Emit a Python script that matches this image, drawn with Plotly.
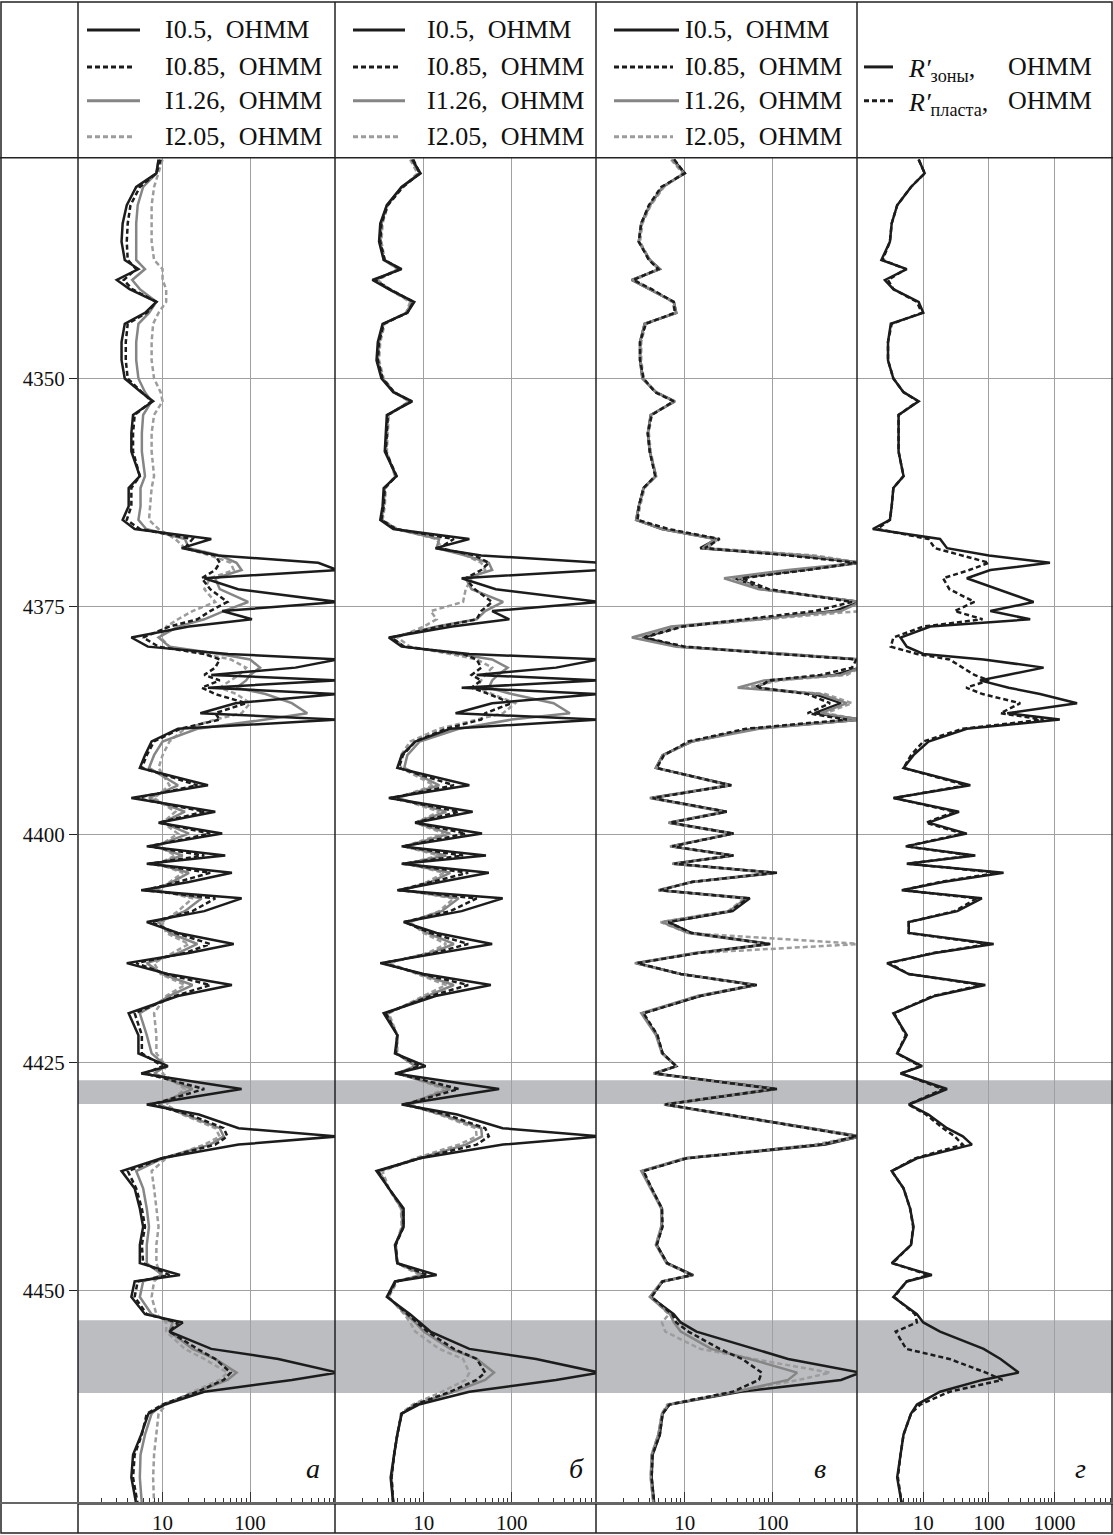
import plotly.graph_objects as go

# ---------------- data ----------------
DEPTH = [4326, 4327.5, 4329, 4331, 4333, 4335, 4337, 4338, 4339.2, 4340.2,
         4341.6, 4342.8, 4344, 4346, 4348, 4350, 4351.5, 4352.5, 4354, 4356,
         4358, 4360.7, 4362, 4364, 4365.5, 4366.5, 4367.6, 4368.6, 4369.4, 4370.2,
         4371, 4371.9, 4373.1, 4374.5, 4375.5, 4376.4, 4377.2, 4378.4, 4379.4, 4380.2,
         4380.8, 4381.7, 4382.5, 4383.1, 4383.9, 4384.6, 4385.6, 4386.7, 4387.4, 4388.4,
         4389.8, 4391.3, 4392.7, 4394.6, 4396, 4397.5, 4398.7, 4399.9, 4401.3, 4402.3,
         4403.2, 4404.2, 4405.2, 4406.1, 4407, 4408.4, 4409.6, 4410.8, 4412, 4413,
         4414.1, 4415.3, 4416.5, 4417.7, 4419.6, 4422, 4424, 4425.4, 4426.2, 4427.9,
         4429.6, 4430.7, 4432.2, 4433.1, 4434, 4435.5, 4436.9, 4438.8, 4441, 4443,
         4445, 4447, 4448.3, 4449, 4450.7, 4452.6, 4453.5, 4454.5, 4456.4, 4457.5,
         4459, 4459.8, 4461.1, 4462.5, 4463.5, 4465.8, 4468, 4470.5, 4473.4]

# panel а
A_I05 = [9, 8.5, 5, 3.9, 3.5, 3.4, 3.7, 5.3, 3.0, 4.2,
         8.5, 6.3, 3.7, 3.4, 3.4, 3.7, 5.7, 7.8, 4.6, 4.4,
         4.4, 5.5, 4.1, 4.1, 3.5, 4.8, 36, 16.5, 43, 600,
         1000, 30, 73, 1000, 48, 105, 20, 4.4, 6.8, 56,
         1000, 330, 36, 1000, 33, 1000, 68, 27, 1000, 15,
         7.5, 6.3, 5.5, 33, 4.4, 40, 9, 48, 6.6, 52,
         6.6, 62, 20, 5.7, 80, 30, 6.6, 15, 65, 20,
         3.9, 11.5, 62, 15, 4.1, 5.3, 5.3, 11.5, 5.7, 80,
         6.6, 26, 74, 1000, 74, 9.7, 3.4, 4.8, 5.5, 6.0,
         5.5, 5.5, 15.8, 4.8, 4.4, 6.3, 17, 12, 36, 210,
         1000, 300, 30, 10.6, 6.9, 5.7, 4.6, 4.4, 5.0]
A_I085 = [9.5, 8.5, 5.5, 4.3, 4.0, 3.9, 4.0, 5.0, 3.6, 4.5,
          8.5, 6.6, 4.0, 3.8, 3.8, 4.0, 5.8, 7.5, 4.8, 4.6,
          4.6, 5.5, 4.4, 4.4, 3.9, 5.5, 22, 18, 40, 45,
          40, 28, 35, 55, 35, 25, 12, 6.0, 9, 30,
          45, 40, 30, 45, 28, 40, 90, 40, 45, 16,
          8, 6.6, 5.8, 25, 5, 30, 9, 35, 7, 30,
          7, 35, 15, 6.3, 40, 22, 7.5, 14, 35, 18,
          5, 11, 35, 14, 4.8, 5.8, 5.8, 10, 6.3, 30,
          7.5, 20, 50, 55, 40, 10, 4.0, 5.0, 5.8, 6.3,
          5.8, 6.0, 12, 5.2, 4.8, 6.6, 15, 12, 25, 40,
          60, 50, 25, 10, 6.6, 5.8, 4.8, 4.6, 5.2]
A_I126 = [9, 8.5, 6, 5.2, 5.0, 5.0, 5.0, 6.3, 4.5, 5.5,
          8.5, 7.0, 5.3, 5.0, 5.0, 5.3, 6.3, 7.5, 6.0, 5.8,
          5.8, 6.3, 5.6, 5.6, 5.3, 6.5, 18, 20, 45, 70,
          80, 40, 45, 95, 50, 30, 15, 9, 12, 45,
          100, 130, 100, 90, 70, 150, 300, 450, 150, 25,
          10, 8, 7, 15, 7, 18, 10, 20, 8, 17,
          8.5, 20, 13, 8, 28, 18, 9, 12, 25, 15,
          6.6, 10, 22, 12, 5.5, 6.6, 7.5, 11, 8, 22,
          9, 18, 45, 50, 35, 10, 5.0, 6.0, 6.6, 7.0,
          6.6, 6.6, 10, 6.0, 5.5, 7.5, 13, 12, 22, 40,
          70, 55, 25, 10, 7.5, 6.3, 5.6, 5.5, 5.8]
A_I205 = [10, 9, 8, 7.5, 7.5, 7.5, 8, 10, 10, 11,
          11, 9, 7.8, 7.5, 7.5, 8, 9.5, 10, 8, 7.5,
          7.5, 8, 7.5, 7.2, 7.0, 9, 14, 18, 35, 60,
          65, 35, 30, 40, 22, 15, 11, 9.5, 12, 30,
          60, 90, 75, 60, 45, 70, 100, 80, 40, 18,
          12, 10, 9, 12, 8, 14, 10, 15, 9, 14,
          9, 17, 12, 9, 22, 15, 10, 11, 20, 13,
          8, 9.5, 18, 11, 8, 8.5, 8.5, 11, 10, 18,
          11, 17, 40, 45, 30, 11, 7.5, 8, 8.5, 9,
          8.5, 8.5, 9.5, 8, 7.5, 8.5, 11, 11, 18, 30,
          55, 45, 22, 11, 9, 8.5, 8, 7.8, 8]

# panel б
B_I05 = [7.4, 9.2, 5.6, 3.8, 3.2, 3.1, 3.5, 5.6, 2.6, 4.0,
         7.8, 6.5, 3.4, 3.0, 2.9, 3.3, 4.5, 7.4, 3.8, 3.7,
         3.6, 4.9, 3.5, 3.4, 3.2, 4.5, 33, 13.6, 45, 1000,
         1000, 27, 66, 1000, 60, 94, 21, 4.0, 5.6, 33,
         1000, 320, 40, 1000, 27, 1000, 60, 23, 1000, 20,
         8, 5.6, 5.0, 33, 4.0, 36, 8, 46, 5.6, 51,
         5.6, 55, 15, 5.0, 79, 27, 5.9, 14, 60, 15,
         3.2, 10, 58, 13.6, 3.5, 5.0, 4.7, 10.5, 4.7, 72,
         5.6, 24, 79, 1000, 80, 9, 2.9, 4.0, 5.9, 5.9,
         4.7, 5.0, 14, 4.7, 3.8, 7, 9, 11.9, 33, 190,
         1000, 320, 33, 8.8, 5.6, 5.0, 4.6, 4.2, 4.5]
B_I085 = [7.6, 9.0, 5.8, 3.9, 3.3, 3.2, 3.6, 5.4, 2.8, 4.1,
          7.6, 6.5, 3.5, 3.1, 3.0, 3.4, 4.6, 7.2, 3.9, 3.8,
          3.7, 4.9, 3.6, 3.5, 3.3, 4.8, 22, 15, 38, 55,
          45, 30, 38, 60, 45, 40, 15, 4.3, 6, 28,
          40, 45, 35, 45, 35, 55, 100, 50, 45, 18,
          8, 5.8, 5.2, 22, 4.2, 25, 8, 30, 5.8, 28,
          5.8, 32, 12, 5.2, 40, 20, 6, 12, 32, 13,
          3.4, 9.5, 32, 12, 3.7, 5.0, 4.8, 9, 5.0, 25,
          6, 18, 50, 55, 40, 9, 3.0, 4.0, 5.8, 5.9,
          4.8, 5.0, 11, 4.8, 3.9, 6.5, 8.5, 11, 22, 40,
          50, 40, 20, 8, 5.6, 5.0, 4.6, 4.3, 4.5]
B_I126 = [7.2, 9.0, 5.6, 3.8, 3.3, 3.2, 3.5, 5.2, 2.8, 4.0,
          7.4, 6.3, 3.5, 3.1, 3.0, 3.4, 4.6, 7.0, 3.9, 3.8,
          3.7, 4.8, 3.6, 3.5, 3.3, 4.8, 15, 14, 30, 55,
          60, 30, 35, 80, 50, 40, 14, 4.3, 6, 25,
          60, 90, 70, 60, 55, 100, 300, 460, 100, 25,
          9, 6.5, 6, 15, 5, 18, 8, 20, 6, 18,
          6.3, 20, 12, 5.8, 25, 16, 6.5, 11, 22, 12,
          3.6, 9, 22, 11, 3.8, 5.0, 4.9, 8, 5.0, 20,
          6.3, 16, 45, 46, 30, 9, 3.1, 4.0, 5.6, 5.7,
          4.8, 5.0, 10, 4.8, 3.9, 6.3, 8, 10, 20, 40,
          63, 50, 22, 8, 5.6, 5.0, 4.6, 4.3, 4.5]
B_I205 = [7.0, 8.5, 5.8, 3.9, 3.4, 3.3, 3.6, 5.0, 3.0, 4.0,
          7.0, 6.3, 3.6, 3.2, 3.1, 3.5, 4.6, 6.8, 4.0, 3.9,
          3.8, 4.7, 3.7, 3.6, 3.4, 5.0, 14, 16, 30, 45,
          50, 35, 30, 28, 12, 14, 10, 5, 7, 20,
          40, 60, 50, 45, 40, 60, 110, 80, 40, 15,
          7, 5.5, 5.5, 13, 5, 15, 8, 17, 6, 15,
          6.5, 17, 11, 6, 22, 15, 7, 10, 18, 11,
          4, 8.5, 18, 10, 4, 5.0, 5.0, 8, 5.5, 17,
          7, 15, 39, 40, 25, 8, 3.4, 4.0, 5.5, 5.6,
          4.8, 5.0, 9, 5, 4.0, 6, 7, 8, 15, 28,
          33, 30, 16, 7.5, 5.5, 5.0, 4.6, 4.3, 4.5]

# panel в
C_I05 = [7.4, 10, 5.6, 4.0, 3.2, 3.0, 4.0, 5.2, 2.5, 4.0,
         7.5, 8, 3.5, 3.1, 3.1, 3.3, 4.7, 7.7, 4.1, 3.8,
         4.0, 4.7, 3.4, 3.0, 2.8, 5.5, 23, 15, 190, 1000,
         200, 37, 79, 1000, 500, 66, 8.8, 3.3, 9, 123,
         1000, 1000, 500, 100, 60, 300, 600, 300, 1000, 60,
         12, 5.6, 4.7, 34, 4.2, 30, 6.7, 36, 7, 36,
         7.4, 112, 12, 5.2, 55, 35, 6.5, 12, 94, 14,
         2.8, 9, 66, 15, 3.3, 4.8, 5.6, 8, 4.5, 112,
         5.9, 30, 270, 1000, 400, 10.5, 3.3, 4.2, 5.5, 5.5,
         4.8, 6.3, 12.5, 5.6, 4.1, 7.5, 9, 13.6, 60, 150,
         1000, 600, 43, 6.7, 5.6, 5.2, 4.3, 4.2, 4.5]
C_I085 = [7.6, 10, 5.4, 3.9, 3.2, 3.0, 3.9, 5.0, 2.6, 4.2,
          7.5, 7.7, 3.6, 3.1, 3.1, 3.4, 4.6, 7.5, 4.2, 3.8,
          4.0, 4.6, 3.4, 3.0, 2.9, 6.5, 25, 17, 150, 900,
          250, 45, 90, 800, 300, 50, 9.5, 3.5, 10, 110,
          900, 800, 350, 90, 70, 250, 450, 250, 700, 50,
          11, 5.8, 4.8, 33, 4.3, 30, 6.8, 35, 7.2, 35,
          7.6, 105, 12, 5.2, 52, 33, 6.5, 12, 90, 14,
          2.9, 9, 62, 15, 3.4, 4.9, 5.6, 8, 4.6, 105,
          6, 30, 250, 900, 350, 10.5, 3.4, 4.2, 5.5, 5.6,
          4.8, 6.3, 12, 5.6, 4.2, 7.2, 8, 11, 25, 45,
          75, 70, 35, 6.7, 5.6, 5.2, 4.3, 4.2, 4.5]
C_I126 = [7.2, 9.8, 5.6, 4.0, 3.2, 3.0, 4.0, 5.2, 2.5, 4.0,
          7.5, 8, 3.5, 3.1, 3.1, 3.3, 4.7, 7.7, 4.1, 3.8,
          4.0, 4.7, 3.4, 3.0, 2.8, 5.5, 22, 16, 250, 1000,
          150, 28, 70, 1000, 600, 60, 7, 2.5, 8, 140,
          1000, 1000, 600, 80, 40, 350, 700, 350, 1000, 70,
          12, 5.6, 4.7, 32, 4.0, 28, 6.5, 34, 6.8, 34,
          7.2, 100, 12, 5.0, 50, 32, 5.5, 11, 88, 13,
          2.7, 9, 62, 14, 3.2, 4.7, 5.5, 8, 4.4, 100,
          5.8, 28, 250, 1000, 350, 10, 3.2, 4.1, 5.4, 5.4,
          4.7, 6.2, 12, 5.5, 4.0, 6.8, 7.5, 9, 20, 55,
          190, 150, 38, 6.5, 5.5, 5.0, 4.2, 4.1, 4.4]
C_I205 = [7.0, 9.5, 5.8, 4.1, 3.3, 3.1, 4.0, 5.0, 2.7, 4.1,
          7.2, 7.8, 3.6, 3.2, 3.2, 3.4, 4.7, 7.4, 4.2, 3.9,
          4.1, 4.7, 3.5, 3.1, 2.9, 6.0, 24, 18, 300, 1000,
          250, 35, 75, 1000, 1000, 80, 9, 2.7, 10, 150,
          1000, 1000, 700, 120, 50, 400, 800, 400, 1000, 60,
          12, 5.8, 4.8, 32, 4.1, 29, 6.6, 34, 6.8, 34,
          7.3, 95, 12, 5.0, 48, 31, 5.3, 11, 1000, 13,
          2.8, 9, 60, 14, 3.3, 4.8, 5.5, 8, 4.5, 95,
          5.8, 28, 230, 900, 300, 10, 3.3, 4.2, 5.4, 5.4,
          4.7, 6.2, 12, 5.5, 4.1, 6.6, 5.5, 6.0, 15, 60,
          450, 200, 35, 6.3, 5.5, 5.0, 4.2, 4.1, 4.4]

# panel г
G_ZONE = [8.5, 10.5, 6.5, 4.0, 3.3, 3.1, 2.3, 5.6, 2.6, 3.5,
          8.5, 10, 3.2, 2.9, 2.9, 3.5, 5, 8.5, 4.2, 4.2,
          4.2, 5.0, 3.5, 3.3, 3.1, 1.7, 18, 23, 100, 850,
          105, 46, 133, 480, 105, 425, 12.8, 4.5, 5.6, 10,
          83, 680, 190, 73, 200, 600, 2200, 190, 1200, 46,
          12, 7.1, 5, 52, 3.5, 35, 12, 46, 5.4, 62,
          5.6, 167, 20, 4.7, 78, 33, 6, 6, 118, 15,
          2.8, 6, 88, 15, 3.5, 5.6, 4.0, 9.6, 4.5, 23,
          6, 12, 23, 40, 55, 8, 3.3, 5.0, 6.3, 7.1,
          6.5, 3.3, 13.5, 5.6, 3.5, 8, 10, 18, 83, 150,
          283, 80, 18, 8, 6.5, 5.0, 4.5, 4.0, 4.7]
G_PLAST = [8.5, 10.5, 6.5, 4.0, 3.3, 3.1, 2.4, 5.4, 2.9, 3.5,
           8, 9.5, 3.3, 2.9, 2.9, 3.5, 5, 8.3, 4.2, 4.2,
           4.2, 5.0, 3.5, 3.3, 3.1, 2.0, 12, 15, 40, 100,
           50, 20, 25, 60, 30, 80, 10, 3.5, 3.2, 8,
           25, 40, 60, 100, 45, 80, 300, 150, 680, 40,
           10, 6.5, 5, 45, 3.6, 30, 11, 40, 5.5, 55,
           5.8, 140, 18, 4.9, 65, 30, 6, 6, 100, 14,
           3.0, 6, 80, 14, 3.6, 5.4, 4.0, 9, 4.6, 20,
           6, 11, 20, 30, 40, 7.5, 3.3, 5.0, 6.3, 7.0,
           6.5, 3.4, 12, 5.6, 3.6, 7.5, 8, 3.8, 5.5, 25,
           90, 160, 25, 9, 6.5, 5.0, 4.5, 4.1, 4.7]

DEPTH_TICKS = [4350, 4375, 4400, 4425, 4450]
X_TICKS = [[10, 100], [10, 100], [10, 100], [10, 100, 1000]]
BANDS = [(4426.95, 4429.55), (4453.27, 4461.24)]
PANEL_LETTERS = ["а", "б", "в", "г"]
LEGEND_I = ["I0.5,\u00a0 OHMM", "I0.85,\u00a0 OHMM", "I1.26,\u00a0 OHMM", "I2.05,\u00a0 OHMM"]
LEGEND_G = ["<i>R′</i><sub>зоны</sub>,", "<i>R′</i><sub>пласта</sub>,"]

for arr in [A_I05, A_I085, A_I126, A_I205, B_I05, B_I085, B_I126, B_I205,
            C_I05, C_I085, C_I126, C_I205, G_ZONE, G_PLAST]:
    assert len(arr) == len(DEPTH), len(arr)

# ---------------- layout geometry ----------------
W, H = 1113, 1535
def px(x): return x / W
def py(y): return 1 - y / H

EDGES = [78, 335, 596, 857, 1113]
XRANGES = [[0.034, 2.97], [-0.01, 2.96], [-0.01, 2.96], [-0.01, 3.89]]
TOP, BOTTOM = 158, 1505

BLACK = "#1c1c1c"
GRAY = "#858585"
LGRAY = "#9c9c9c"
DASH = "5px,3px"
STY = [dict(color=BLACK, dash="solid"), dict(color=BLACK, dash=DASH),
       dict(color=GRAY, dash="solid"), dict(color=LGRAY, dash=DASH)]
SERIF = "Liberation Serif"
LW = 2.5

fig = go.Figure()

panels = [[A_I05, A_I085, A_I126, A_I205],
          [B_I05, B_I085, B_I126, B_I205],
          [C_I05, C_I085, C_I126, C_I205]]
orders = [[3, 2, 1, 0], [3, 2, 1, 0], [0, 3, 2, 1]]
for p in range(3):
    xa = "x" if p == 0 else f"x{p+1}"
    for k in orders[p]:
        fig.add_trace(go.Scatter(x=panels[p][k], y=DEPTH, mode="lines", xaxis=xa, yaxis="y",
                                 line=dict(color=STY[k]["color"], dash=STY[k]["dash"], width=LW),
                                 showlegend=False, hoverinfo="skip"))
fig.add_trace(go.Scatter(x=G_PLAST, y=DEPTH, mode="lines", xaxis="x4", yaxis="y",
                         line=dict(color=BLACK, dash=DASH, width=LW), showlegend=False, hoverinfo="skip"))
fig.add_trace(go.Scatter(x=G_ZONE, y=DEPTH, mode="lines", xaxis="x4", yaxis="y",
                         line=dict(color=BLACK, width=LW), showlegend=False, hoverinfo="skip"))

minor_abv = [2, 3, 4, 5, 6, 7, 8, 9, 20, 30, 40, 50, 60, 70, 80, 90, 200, 300, 400, 500, 600, 700, 800, 900]
minor_g = minor_abv + [2000, 3000, 4000, 5000, 6000, 7000]

layout = dict(width=W, height=H, autosize=False, margin=dict(l=0, r=0, t=0, b=0),
              paper_bgcolor="white", plot_bgcolor="rgba(0,0,0,0)", showlegend=False)
for i in range(4):
    key = "xaxis" if i == 0 else f"xaxis{i+1}"
    layout[key] = dict(type="log", domain=[px(EDGES[i]), px(EDGES[i + 1])], range=XRANGES[i],
                       anchor="y", tickvals=X_TICKS[i], ticktext=[str(v) for v in X_TICKS[i]],
                       ticks="inside", ticklen=11, tickwidth=1, tickcolor="#333",
                       showgrid=True, gridcolor="#a0a0a0", gridwidth=1,
                       showline=True, linecolor="#666", linewidth=2, zeroline=False,
                       minor=dict(tickvals=minor_g if i == 3 else minor_abv, ticks="inside",
                                  ticklen=5, tickcolor="#333", showgrid=False),
                       tickfont=dict(family=SERIF, size=21, color="#111"), fixedrange=True)
layout["yaxis"] = dict(domain=[py(BOTTOM), py(TOP)], range=[4473.3, 4325.8], anchor="x",
                       tickvals=DEPTH_TICKS, ticktext=[str(v) for v in DEPTH_TICKS],
                       ticks="outside", ticklen=8, tickcolor="#222", showgrid=True,
                       gridcolor="#a0a0a0", gridwidth=1, zeroline=False, showline=False,
                       tickfont=dict(family=SERIF, size=21, color="#111"), fixedrange=True)
fig.update_layout(**layout)

shapes = []
# reservoir bands
for y0, y1 in BANDS:
    shapes.append(dict(type="rect", xref="paper", yref="y", x0=px(78), x1=1, y0=y0, y1=y1,
                       fillcolor="#bcbdc1", line=dict(width=0), layer="below"))
# frame
LC = "#222"
shapes.append(dict(type="rect", xref="paper", yref="paper", x0=px(1), x1=px(1112), y0=py(1535), y1=py(2),
                   line=dict(color=LC, width=1.5)))
for x in EDGES[:-1]:
    shapes.append(dict(type="line", xref="paper", yref="paper", x0=px(x), x1=px(x), y0=py(1535), y1=py(2),
                       line=dict(color=LC, width=1.5)))
shapes.append(dict(type="line", xref="paper", yref="paper", x0=0, x1=1, y0=py(TOP), y1=py(TOP),
                   line=dict(color=LC, width=1.5)))
shapes.append(dict(type="line", xref="paper", yref="paper", x0=0, x1=1, y0=py(BOTTOM), y1=py(BOTTOM),
                   line=dict(color="#666", width=2)))

annotations = []
ROWS = [30, 67, 101, 137]
LEG_X = [(87, 140, 163), (353, 405, 425), (614, 679, 683)]
for p in range(3):
    x0, x1, tx = LEG_X[p]
    for j in range(4):
        xe = x1 if STY[j]["dash"] == "solid" else x1 - 6
        shapes.append(dict(type="line", xref="paper", yref="paper", x0=px(x0), x1=px(xe),
                           y0=py(ROWS[j]), y1=py(ROWS[j]),
                           line=dict(color=STY[j]["color"], dash=STY[j]["dash"], width=3)))
        annotations.append(dict(xref="paper", yref="paper", x=px(tx), y=py(ROWS[j]), text=LEGEND_I[j],
                                xanchor="left", yanchor="middle", showarrow=False,
                                font=dict(family=SERIF, size=26, color="#111")))
for j, dash in enumerate(["solid", DASH]):
    yy = [67, 101][j]
    shapes.append(dict(type="line", xref="paper", yref="paper", x0=px(864), x1=px(893), y0=py(yy), y1=py(yy),
                       line=dict(color=BLACK, dash=dash, width=3)))
    annotations.append(dict(xref="paper", yref="paper", x=px(906), y=py(yy + 3), text=LEGEND_G[j],
                            xanchor="left", yanchor="middle", showarrow=False,
                            font=dict(family=SERIF, size=26, color="#111")))
    annotations.append(dict(xref="paper", yref="paper", x=px(1006), y=py(yy), text="OHMM",
                            xanchor="left", yanchor="middle", showarrow=False,
                            font=dict(family=SERIF, size=26, color="#111")))

LETTER_X = [313, 576, 820, 1080]
for i, t in enumerate(PANEL_LETTERS):
    annotations.append(dict(xref="paper", yref="paper", x=px(LETTER_X[i]), y=py(1470), text=f"<i>{t}</i>",
                            xanchor="center", yanchor="middle", showarrow=False,
                            font=dict(family=SERIF, size=28, color="#111")))

fig.update_layout(shapes=shapes, annotations=annotations)
fig.write_html("out.html", config={"displayModeBar": False},
               post_script="document.body.style.margin='0';")
